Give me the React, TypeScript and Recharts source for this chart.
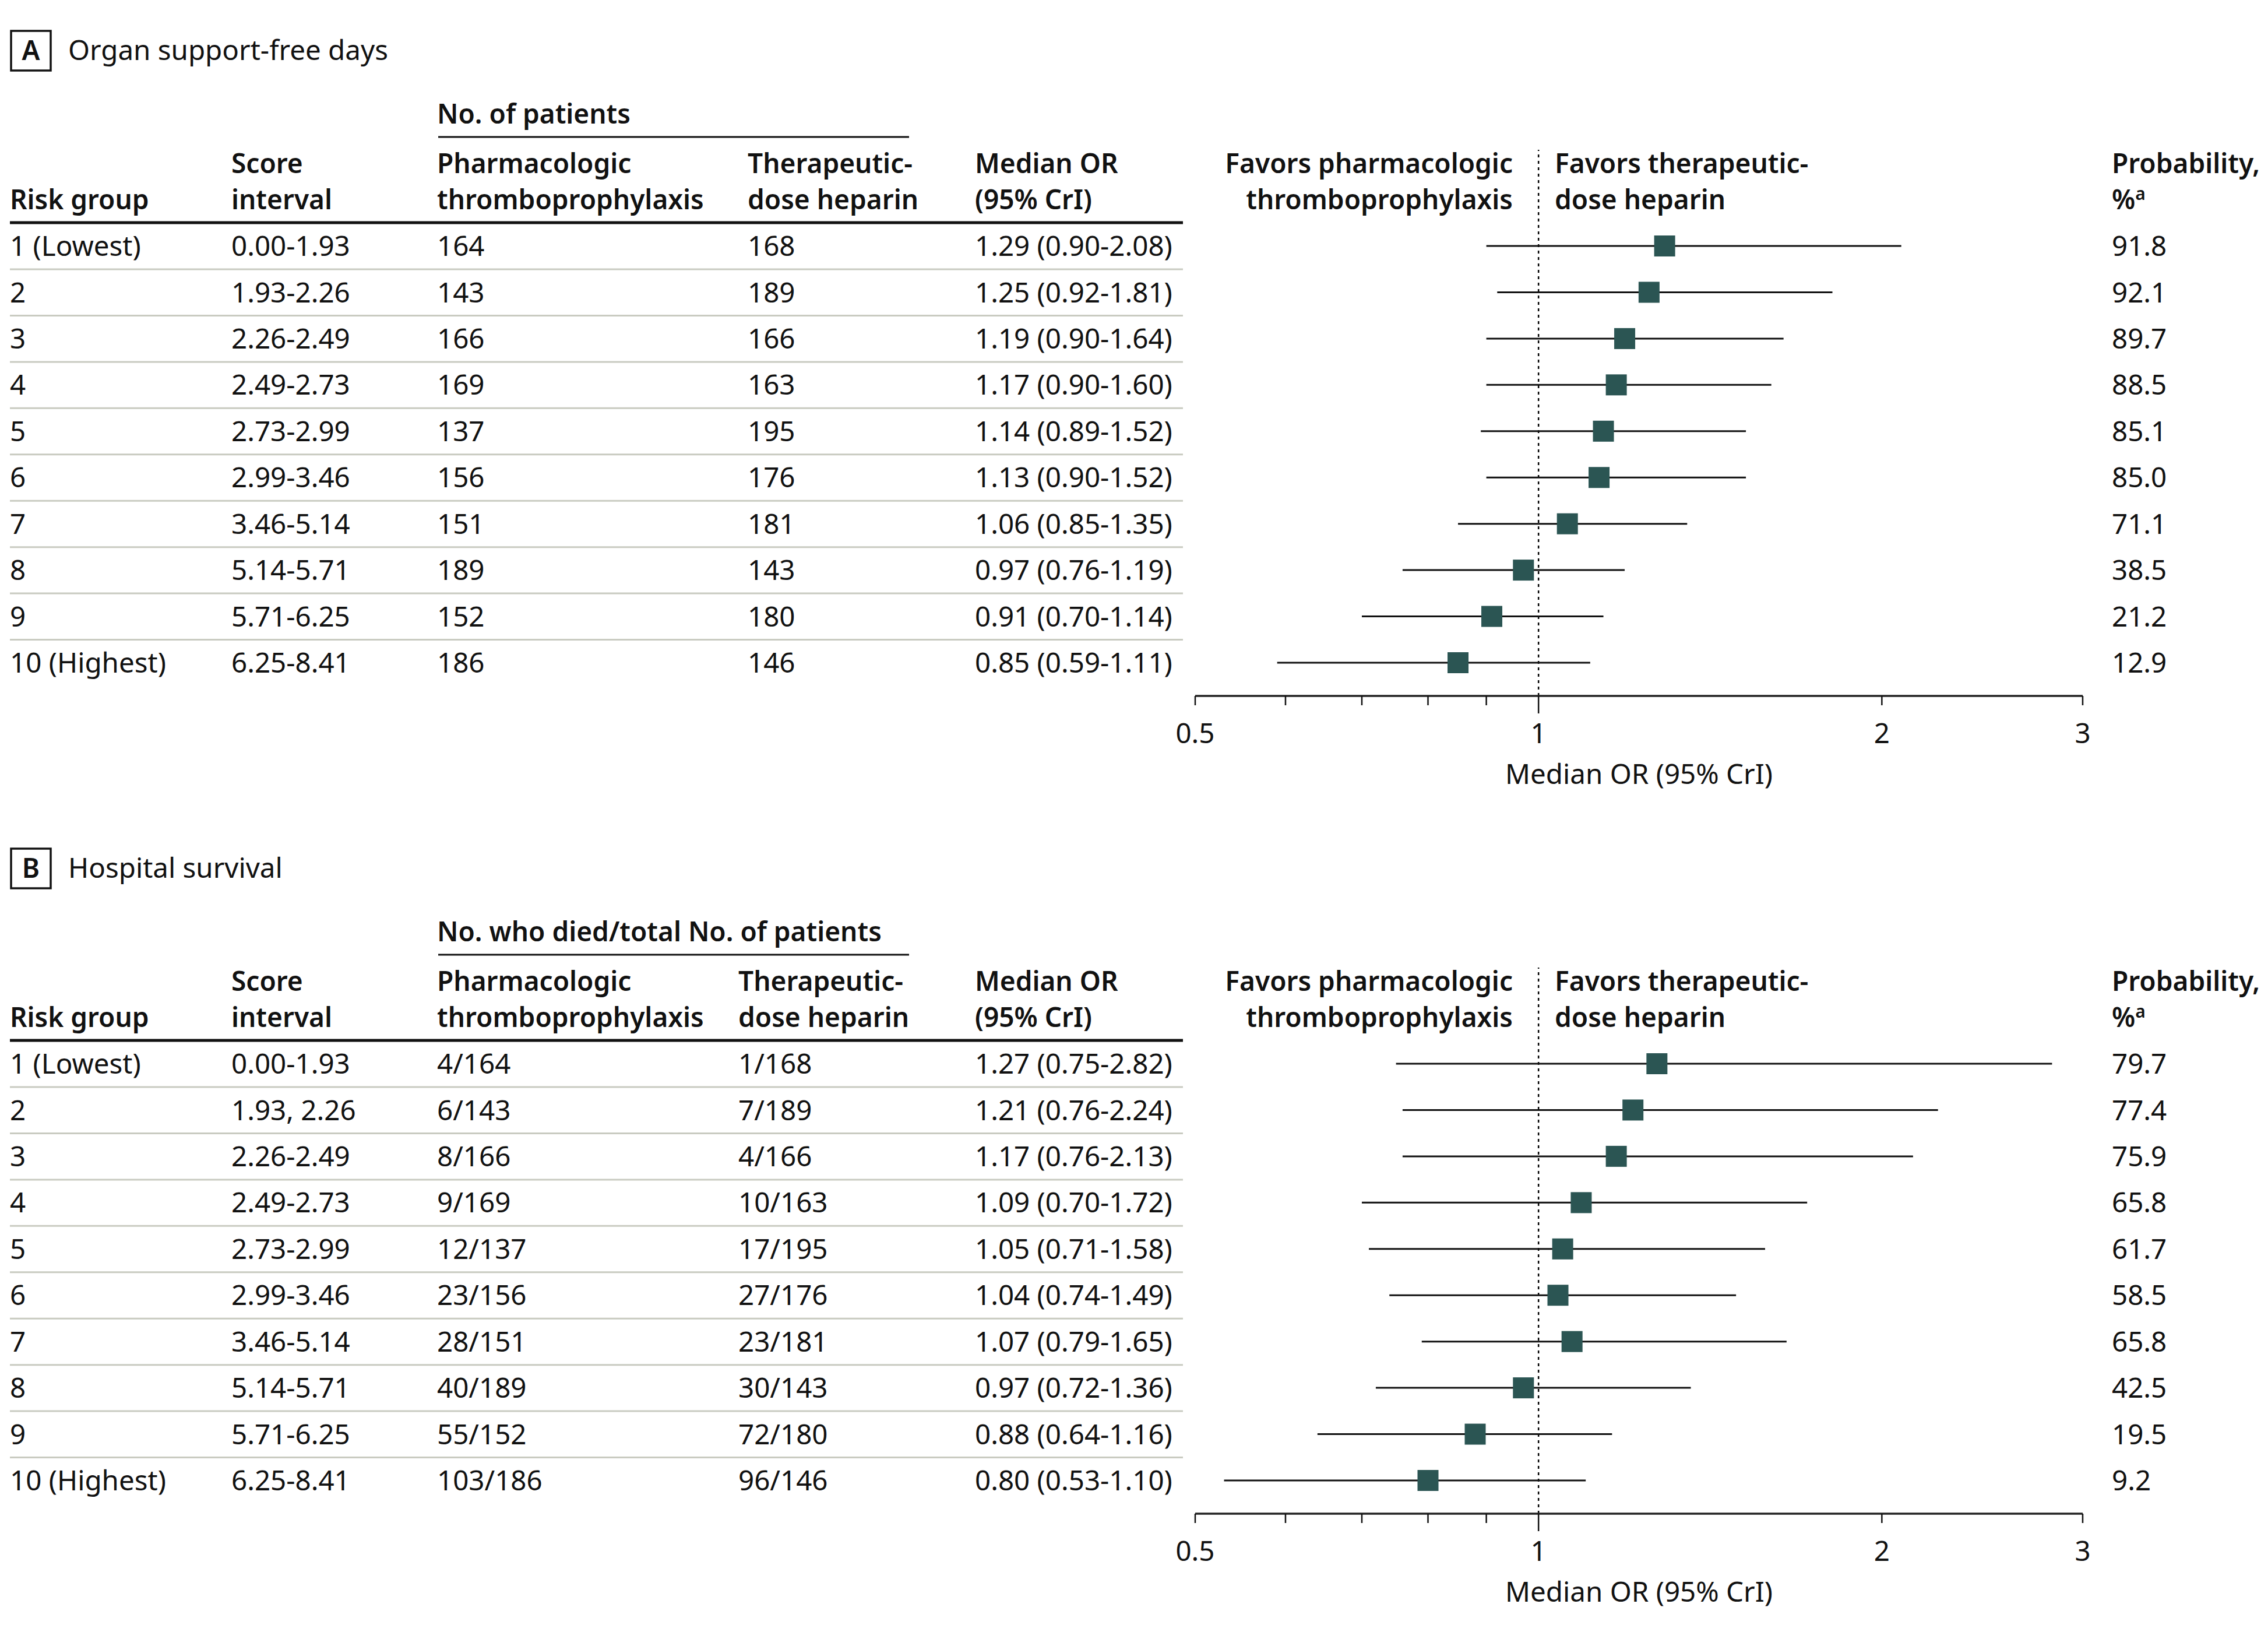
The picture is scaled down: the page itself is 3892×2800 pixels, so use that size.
import React from 'react'
import {
  ComposedChart,
  Scatter,
  ErrorBar,
  XAxis,
  YAxis,
  ReferenceLine,
  Customized
} from 'recharts'

// --- data ---
const riskGroups = ['1 (Lowest)', '2', '3', '4', '5', '6', '7', '8', '9', '10 (Highest)']

const scoreIntervalsA = ['0.00-1.93', '1.93-2.26', '2.26-2.49', '2.49-2.73', '2.73-2.99', '2.99-3.46', '3.46-5.14', '5.14-5.71', '5.71-6.25', '6.25-8.41']
const scoreIntervalsB = ['0.00-1.93', '1.93, 2.26', '2.26-2.49', '2.49-2.73', '2.73-2.99', '2.99-3.46', '3.46-5.14', '5.14-5.71', '5.71-6.25', '6.25-8.41']

const pharmA = ['164', '143', '166', '169', '137', '156', '151', '189', '152', '186']
const therA = ['168', '189', '166', '163', '195', '176', '181', '143', '180', '146']
const medianA = [1.29, 1.25, 1.19, 1.17, 1.14, 1.13, 1.06, 0.97, 0.91, 0.85]
const lowerA = [0.9, 0.92, 0.9, 0.9, 0.89, 0.9, 0.85, 0.76, 0.7, 0.59]
const upperA = [2.08, 1.81, 1.64, 1.6, 1.52, 1.52, 1.35, 1.19, 1.14, 1.11]
const probA = [91.8, 92.1, 89.7, 88.5, 85.1, 85.0, 71.1, 38.5, 21.2, 12.9]

const pharmB = ['4/164', '6/143', '8/166', '9/169', '12/137', '23/156', '28/151', '40/189', '55/152', '103/186']
const therB = ['1/168', '7/189', '4/166', '10/163', '17/195', '27/176', '23/181', '30/143', '72/180', '96/146']
const medianB = [1.27, 1.21, 1.17, 1.09, 1.05, 1.04, 1.07, 0.97, 0.88, 0.8]
const lowerB = [0.75, 0.76, 0.76, 0.7, 0.71, 0.74, 0.79, 0.72, 0.64, 0.53]
const upperB = [2.82, 2.24, 2.13, 1.72, 1.58, 1.49, 1.65, 1.36, 1.16, 1.1]
const probB = [79.7, 77.4, 75.9, 65.8, 61.7, 58.5, 65.8, 42.5, 19.5, 9.2]

const xTicks = [0.5, 0.6, 0.7, 0.8, 0.9, 1, 2, 3]
const xTickLabels: Record<number, string> = { 0.5: '0.5', 1: '1', 2: '2', 3: '3' }

// --- layout ---
const W = 3892
const FONT = '"Noto Sans", "Open Sans", sans-serif'
const FS = 47.5
const INK = '#111'
const SQUARE = '#2b5553'
const RULE = '#c9cbc1'

const COL = { risk: 17, score: 397, pharm: 750, median: 1673, favL: 2596, favR: 2668, prob: 3624 }

type Row = {
  row: number
  risk: string
  score: string
  pharm: string
  ther: string
  or: number
  err: [number, number]
  orText: string
  prob: string
}

function buildRows(scores: string[], pharm: string[], ther: string[], med: number[], lo: number[], hi: number[], prob: number[]): Row[] {
  return riskGroups.map((risk, i) => ({
    row: i,
    risk,
    score: scores[i],
    pharm: pharm[i],
    ther: ther[i],
    or: med[i],
    err: [med[i] - lo[i], hi[i] - med[i]],
    orText: `${med[i].toFixed(2)} (${lo[i].toFixed(2)}-${hi[i].toFixed(2)})`,
    prob: prob[i].toFixed(1)
  }))
}

const rowsA = buildRows(scoreIntervalsA, pharmA, therA, medianA, lowerA, upperA, probA)
const rowsB = buildRows(scoreIntervalsB, pharmB, therB, medianB, lowerB, upperB, probB)

const txt = { fontFamily: FONT, fontSize: FS, fill: INK }
const bold = { ...txt, fontSize: 46, fontWeight: 600 }

function RowTick(props: any) {
  const { y, payload, rows, therX } = props
  const r: Row = rows[payload.value]
  if (!r) return null
  return (
    <g>
      {r.row === 0 && <line x1={17} x2={2030} y1={y - 40} y2={y - 40} stroke={INK} strokeWidth={5} />}
      {r.row < rows.length - 1 && <line x1={17} x2={2030} y1={y + 40} y2={y + 40} stroke={RULE} strokeWidth={3} />}
      <text x={COL.risk} y={y} dy="0.36em" {...txt}>{r.risk}</text>
      <text x={COL.score} y={y} dy="0.36em" {...txt}>{r.score}</text>
      <text x={COL.pharm} y={y} dy="0.36em" {...txt}>{r.pharm}</text>
      <text x={therX} y={y} dy="0.36em" {...txt}>{r.ther}</text>
      <text x={COL.median} y={y} dy="0.36em" {...txt}>{r.orText}</text>
      <text x={COL.prob} y={y} dy="0.36em" {...txt}>{r.prob}</text>
    </g>
  )
}

function XTick(props: any) {
  const { x, y, payload } = props
  const v = payload.value
  const label = xTickLabels[v]
  return (
    <g>
      <line x1={x} x2={x} y1={y} y2={y + (v === 1 ? 30 : 16)} stroke={INK} strokeWidth={2.5} />
      {label && (
        <text x={x} y={y + 64} dy="0.36em" textAnchor="middle" {...txt}>{label}</text>
      )}
    </g>
  )
}

function Header({ letter, title, group, therX }: { letter: string; title: string; group: string; therX: number }) {
  const b1 = 297
  const b2 = 359
  return (
    <g>
      <rect x={19} y={53} width={68} height={68} fill="none" stroke={INK} strokeWidth={3.5} />
      <text x={53} y={103} textAnchor="middle" {...bold}>{letter}</text>
      <text x={117} y={103} {...txt}>{title}</text>

      <text x={COL.pharm} y={212} {...bold}>{group}</text>
      <line x1={752} x2={1560} y1={235} y2={235} stroke={INK} strokeWidth={3} />

      <text x={COL.risk} y={b2} {...bold}>Risk group</text>
      <text x={COL.score} y={b1} {...bold}>Score</text>
      <text x={COL.score} y={b2} {...bold}>interval</text>
      <text x={COL.pharm} y={b1} {...bold}>Pharmacologic</text>
      <text x={COL.pharm} y={b2} {...bold}>thromboprophylaxis</text>
      <text x={therX} y={b1} {...bold}>Therapeutic-</text>
      <text x={therX} y={b2} {...bold}>dose heparin</text>
      <text x={COL.median} y={b1} {...bold}>Median OR</text>
      <text x={COL.median} y={b2} {...bold}>(95% CrI)</text>

      <text x={COL.favL} y={b1} textAnchor="end" {...bold}>Favors pharmacologic</text>
      <text x={COL.favL} y={b2} textAnchor="end" {...bold}>thromboprophylaxis</text>
      <text x={COL.favR} y={b1} {...bold}>Favors therapeutic-</text>
      <text x={COL.favR} y={b2} {...bold}>dose heparin</text>

      <text x={COL.prob} y={b1} {...bold}>Probability,</text>
      <text x={COL.prob} y={b2} {...bold}>
        %<tspan dy={-16} fontSize={30}>a</tspan>
      </text>
    </g>
  )
}

function Panel({ rows, letter, title, group, therX, height }: { rows: Row[]; letter: string; title: string; group: string; therX: number; height: number }) {
  const plotTop = 257
  const plotBottom = 1194
  const step = 79.44
  const yDomain = [-(422 - plotTop) / step, 9 + (plotBottom - 1137) / step]
  return (
    <ComposedChart
      width={W}
      height={height}
      data={rows}
      margin={{ top: plotTop, right: 318, bottom: 0, left: 0 }}
    >
      <Customized component={<Header letter={letter} title={title} group={group} therX={therX} />} />
      <XAxis
        type="number"
        dataKey="or"
        scale="log"
        domain={[0.5, 3]}
        ticks={xTicks}
        interval={0}
        allowDataOverflow
        tickSize={0}
        tickMargin={0}
        tickLine={false}
        axisLine={{ stroke: '#222', strokeWidth: 3.5 }}
        tick={<XTick />}
        height={height - plotBottom}
        label={{
          value: 'Median OR (95% CrI)',
          content: (p: any) => {
            const vb = p.viewBox
            return (
              <text x={vb.x + vb.width / 2} y={vb.y + 134} dy="0.36em" textAnchor="middle" {...txt}>
                Median OR (95% CrI)
              </text>
            )
          }
        }}
      />
      <YAxis
        type="number"
        dataKey="row"
        domain={yDomain}
        reversed
        ticks={rows.map((r) => r.row)}
        interval={0}
        allowDataOverflow
        axisLine={false}
        tickLine={false}
        width={2051}
        tick={<RowTick rows={rows} therX={therX} />}
      />
      <ReferenceLine x={1} stroke="#000" strokeWidth={2.5} strokeDasharray="5 6" />
      <Scatter
        isAnimationActive={false}
        shape={(p: any) => <rect x={p.cx - 18} y={p.cy - 18} width={36} height={36} fill={SQUARE} />}
      >
        <ErrorBar dataKey="err" direction="x" width={0} stroke="#111" strokeWidth={3} />
      </Scatter>
    </ComposedChart>
  )
}

export default function App() {
  return (
    <div style={{ position: 'absolute', left: 0, top: 0, width: W, height: 2800, background: '#fff' }}>
      <Panel rows={rowsA} letter="A" title="Organ support-free days" group="No. of patients" therX={1283} height={1403} />
      <Panel rows={rowsB} letter="B" title="Hospital survival" group="No. who died/total No. of patients" therX={1267} height={1397} />
    </div>
  )
}
